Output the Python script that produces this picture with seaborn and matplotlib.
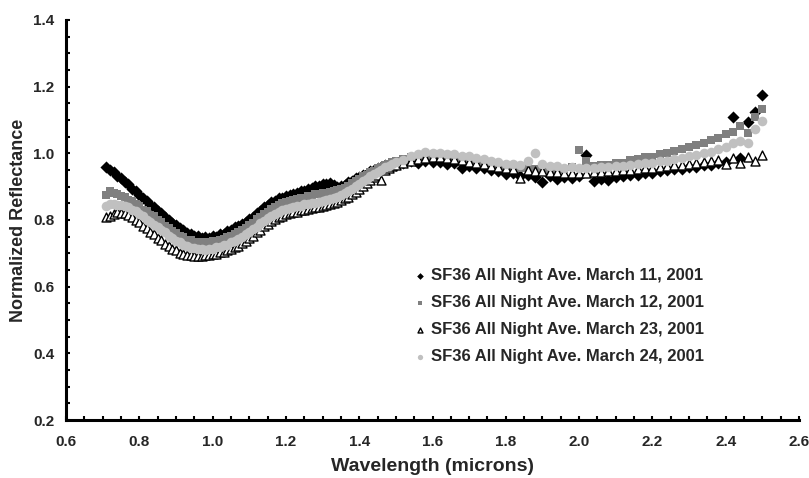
import numpy as np
import pandas as pd
import matplotlib
matplotlib.use("Agg")
import matplotlib.pyplot as plt
from matplotlib.ticker import MultipleLocator, FormatStrFormatter
import seaborn as sns

# Wavelength samples (microns)
wavelength = [
    0.71, 0.72, 0.73, 0.74, 0.75, 0.76, 0.77, 0.78, 0.79, 0.80,
    0.81, 0.82, 0.83, 0.84, 0.85, 0.86, 0.87, 0.88, 0.89, 0.90,
    0.91, 0.92, 0.93, 0.94, 0.95, 0.96, 0.97, 0.98, 0.99, 1.00,
    1.01, 1.02, 1.03, 1.04, 1.05, 1.06, 1.07, 1.08, 1.09, 1.10,
    1.11, 1.12, 1.13, 1.14, 1.15, 1.16, 1.17, 1.18, 1.19, 1.20,
    1.21, 1.22, 1.23, 1.24, 1.25, 1.26, 1.27, 1.28, 1.29, 1.30,
    1.31, 1.32, 1.33, 1.34, 1.35, 1.36, 1.37, 1.38, 1.39, 1.40,
    1.41, 1.42, 1.43, 1.44, 1.45, 1.46, 1.47, 1.48, 1.49, 1.50,
    1.52, 1.54, 1.56, 1.58, 1.60, 1.62, 1.64, 1.66, 1.68, 1.70,
    1.72, 1.74, 1.76, 1.78, 1.80, 1.82, 1.84, 1.86, 1.88, 1.90,
    1.92, 1.94, 1.96, 1.98, 2.00, 2.02, 2.04, 2.06, 2.08, 2.10,
    2.12, 2.14, 2.16, 2.18, 2.20, 2.22, 2.24, 2.26, 2.28, 2.30,
    2.32, 2.34, 2.36, 2.38, 2.40, 2.42, 2.44, 2.46, 2.48, 2.50,
]

# Normalized reflectance, all-night averages
mar11 = [
    0.958, 0.951, 0.944, 0.931, 0.926, 0.914, 0.907, 0.893, 0.886, 0.874,
    0.866, 0.858, 0.846, 0.839, 0.828, 0.821, 0.808, 0.801, 0.790, 0.786,
    0.775, 0.771, 0.761, 0.758, 0.751, 0.752, 0.746, 0.749, 0.745, 0.752,
    0.750, 0.757, 0.758, 0.767, 0.769, 0.778, 0.781, 0.789, 0.794, 0.803,
    0.809, 0.821, 0.827, 0.838, 0.844, 0.853, 0.857, 0.865, 0.867, 0.873,
    0.874, 0.879, 0.881, 0.887, 0.888, 0.894, 0.895, 0.901, 0.903, 0.908,
    0.907, 0.911, 0.904, 0.899, 0.902, 0.906, 0.913, 0.917, 0.926, 0.929,
    0.936, 0.939, 0.946, 0.949, 0.956, 0.958, 0.964, 0.962, 0.968, 0.966,
    0.972, 0.976, 0.971, 0.977, 0.974, 0.975, 0.969, 0.970, 0.955, 0.962,
    0.957, 0.956, 0.949, 0.946, 0.939, 0.940, 0.933, 0.934, 0.929, 0.914,
    0.931, 0.924, 0.929, 0.927, 0.931, 0.996, 0.917, 0.923, 0.921, 0.929,
    0.931, 0.936, 0.935, 0.941, 0.942, 0.947, 0.949, 0.953, 0.954, 0.959,
    0.958, 0.964, 0.965, 0.971, 0.973, 1.110, 0.985, 1.095, 1.125, 1.175,
]
mar12 = [
    0.874, 0.887, 0.881, 0.877, 0.871, 0.869, 0.861, 0.856, 0.847, 0.841,
    0.831, 0.826, 0.816, 0.811, 0.799, 0.793, 0.782, 0.776, 0.766, 0.761,
    0.752, 0.748, 0.741, 0.739, 0.734, 0.734, 0.731, 0.733, 0.732, 0.736,
    0.736, 0.741, 0.743, 0.749, 0.752, 0.759, 0.763, 0.771, 0.776, 0.786,
    0.792, 0.803, 0.809, 0.819, 0.825, 0.834, 0.839, 0.846, 0.850, 0.855,
    0.857, 0.861, 0.862, 0.866, 0.867, 0.871, 0.872, 0.877, 0.878, 0.881,
    0.882, 0.885, 0.886, 0.889, 0.892, 0.897, 0.903, 0.910, 0.916, 0.922,
    0.931, 0.936, 0.944, 0.948, 0.955, 0.959, 0.966, 0.969, 0.975, 0.978,
    0.984, 0.988, 0.990, 0.994, 0.992, 0.993, 0.989, 0.988, 0.984, 0.982,
    0.977, 0.975, 0.969, 0.967, 0.961, 0.959, 0.955, 0.957, 0.954, 0.956,
    0.951, 0.954, 0.953, 0.958, 1.010, 0.978, 0.963, 0.966, 0.964, 0.972,
    0.971, 0.979, 0.983, 0.988, 0.990, 0.998, 1.000, 1.008, 1.014, 1.018,
    1.026, 1.030, 1.041, 1.046, 1.058, 1.065, 1.082, 1.062, 1.108, 1.132,
]
mar23 = [
    0.808, 0.812, 0.817, 0.823, 0.822, 0.821, 0.814, 0.809, 0.799, 0.793,
    0.782, 0.775, 0.764, 0.757, 0.746, 0.739, 0.728, 0.722, 0.713, 0.709,
    0.701, 0.699, 0.694, 0.694, 0.691, 0.693, 0.692, 0.695, 0.694, 0.698,
    0.698, 0.703, 0.704, 0.710, 0.712, 0.719, 0.723, 0.731, 0.736, 0.746,
    0.752, 0.763, 0.770, 0.781, 0.787, 0.797, 0.802, 0.809, 0.813, 0.819,
    0.820, 0.824, 0.825, 0.829, 0.830, 0.834, 0.835, 0.838, 0.839, 0.842,
    0.844, 0.848, 0.850, 0.855, 0.859, 0.865, 0.870, 0.877, 0.883, 0.893,
    0.902, 0.911, 0.920, 0.928, 0.936, 0.921, 0.950, 0.955, 0.961, 0.965,
    0.972, 0.978, 0.984, 0.987, 0.990, 0.989, 0.986, 0.983, 0.979, 0.975,
    0.971, 0.967, 0.963, 0.959, 0.955, 0.952, 0.927, 0.949, 0.947, 0.946,
    0.944, 0.943, 0.942, 0.941, 0.942, 0.942, 0.943, 0.944, 0.946, 0.947,
    0.949, 0.951, 0.953, 0.955, 0.957, 0.959, 0.961, 0.964, 0.966, 0.969,
    0.971, 0.974, 0.976, 0.979, 0.968, 0.985, 0.972, 0.989, 0.978, 0.996,
]
mar24 = [
    0.843, 0.847, 0.849, 0.846, 0.846, 0.841, 0.839, 0.831, 0.826, 0.817,
    0.811, 0.801, 0.795, 0.785, 0.779, 0.769, 0.763, 0.753, 0.747, 0.738,
    0.734, 0.726, 0.723, 0.717, 0.716, 0.712, 0.713, 0.711, 0.714, 0.714,
    0.718, 0.719, 0.724, 0.726, 0.733, 0.736, 0.744, 0.749, 0.758, 0.764,
    0.774, 0.780, 0.790, 0.796, 0.806, 0.811, 0.819, 0.823, 0.830, 0.833,
    0.837, 0.838, 0.842, 0.843, 0.847, 0.848, 0.851, 0.852, 0.855, 0.856,
    0.859, 0.862, 0.866, 0.869, 0.875, 0.880, 0.887, 0.893, 0.901, 0.907,
    0.916, 0.922, 0.931, 0.937, 0.945, 0.950, 0.958, 0.962, 0.969, 0.973,
    0.981, 0.992, 0.998, 1.003, 1.001, 1.002, 0.998, 0.997, 0.992, 0.991,
    0.985, 0.983, 0.977, 0.975, 0.969, 0.968, 0.965, 0.976, 1.002, 0.968,
    0.963, 0.961, 0.957, 0.958, 0.955, 0.956, 0.955, 0.958, 0.958, 0.962,
    0.962, 0.966, 0.967, 0.971, 0.972, 0.977, 0.978, 0.983, 0.985, 0.991,
    0.994, 1.001, 1.004, 1.012, 1.019, 1.031, 1.038, 1.032, 1.072, 1.098,
]

labels = [
    "SF36 All Night Ave. March 11, 2001",
    "SF36 All Night Ave. March 12, 2001",
    "SF36 All Night Ave. March 23, 2001",
    "SF36 All Night Ave. March 24, 2001",
]
series_values = [mar11, mar12, mar23, mar24]

frames = []
for lab, vals in zip(labels, series_values):
    frames.append(pd.DataFrame({"wavelength": wavelength,
                                "reflectance": vals,
                                "series": lab}))
df = pd.concat(frames, ignore_index=True)

sns.set_style("ticks")
plt.rcParams["font.family"] = ["Liberation Sans", "DejaVu Sans"]
plt.rcParams["font.weight"] = "bold"
plt.rcParams["axes.labelweight"] = "bold"

fig = plt.figure(figsize=(8.09, 4.78), dpi=100)
ax = fig.add_axes([66 / 809, 1 - 420 / 478, 733 / 809, 400 / 478])

styles = [
    dict(marker="D", color="black", s=38, edgecolor="black", linewidth=0),
    dict(marker="s", color="#808080", s=30, edgecolor="#808080", linewidth=0),
    dict(marker="^", color="white", s=42, edgecolor="black", linewidth=1.0),
    dict(marker="o", color="#c0c0c0", s=48, edgecolor="#c0c0c0", linewidth=0),
]
for lab, st in zip(labels, styles):
    sub = df[df["series"] == lab]
    sns.scatterplot(data=sub, x="wavelength", y="reflectance", ax=ax,
                    label=lab, zorder=3, **st)

ax.set_xlim(0.6, 2.6)
ax.set_ylim(0.2, 1.4)
ax.xaxis.set_major_locator(MultipleLocator(0.2))
ax.xaxis.set_minor_locator(MultipleLocator(0.05))
ax.yaxis.set_major_locator(MultipleLocator(0.2))
ax.yaxis.set_minor_locator(MultipleLocator(0.05))
ax.xaxis.set_major_formatter(FormatStrFormatter("%.1f"))
ax.yaxis.set_major_formatter(FormatStrFormatter("%.1f"))

for side in ("top", "right"):
    ax.spines[side].set_visible(False)
for side in ("left", "bottom"):
    ax.spines[side].set_linewidth(2.2)
    ax.spines[side].set_color("black")

ax.tick_params(axis="both", which="both", direction="in", length=3,
               width=1.5, color="black", labelsize=11)
ax.tick_params(axis="x", which="major", pad=10.5)
ax.tick_params(axis="y", which="major", pad=8.5)
for t in ax.get_xticklabels() + ax.get_yticklabels():
    t.set_fontweight("bold")

ax.set_xlabel("Wavelength (microns)", fontsize=14, fontweight="bold",
              labelpad=7)
ax.set_ylabel("Normalized Reflectance", fontsize=13, fontweight="bold",
              labelpad=4)

leg = ax.legend(loc="upper left", bbox_to_anchor=(0.462, 0.40),
                frameon=False, fontsize=12, handletextpad=0.2,
                handlelength=0.9, labelspacing=0.72, borderpad=0,
                markerscale=0.55)
for txt in leg.get_texts():
    txt.set_fontweight("bold")

fig.savefig("out.png", dpi=100, facecolor="white")
